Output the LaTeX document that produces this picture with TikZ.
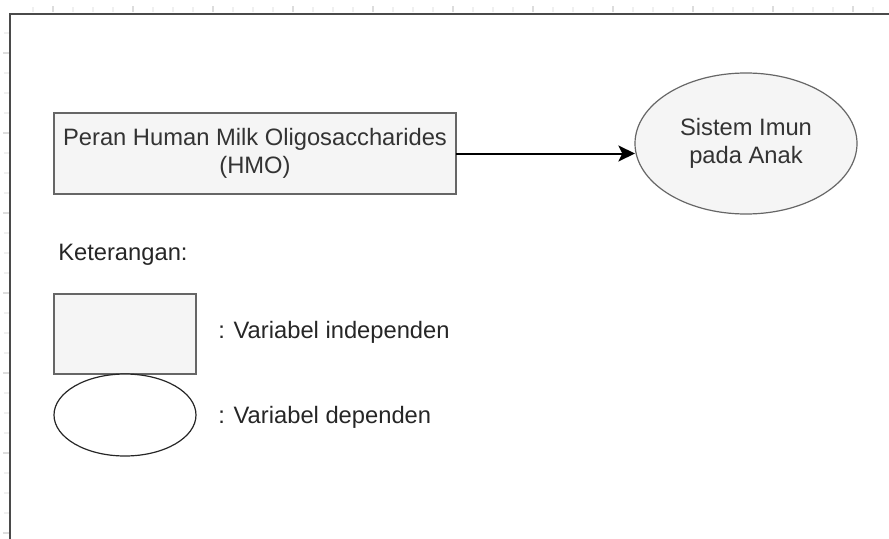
\documentclass[tikz,border=0pt]{standalone}
\usepackage{fontspec}
\setmainfont{Liberation Sans}
\usetikzlibrary{shapes.geometric,arrows.meta}
\definecolor{boxfill}{HTML}{F5F5F5}
\definecolor{boxline}{HTML}{666666}
\definecolor{boxtext}{HTML}{333333}
\definecolor{frameline}{HTML}{4A4A4A}
\definecolor{tickminor}{HTML}{F0F0F0}
\definecolor{tickmajor}{HTML}{DDDDDD}
\tikzset{
  varbox/.style={rectangle,draw=boxline,fill=boxfill,line width=0.9pt,inner sep=0pt,outer sep=0pt,
    text=boxtext,align=center,font=\fontsize{17.8}{21}\selectfont},
  varell/.style={ellipse,draw=boxline,fill=boxfill,line width=0.9pt,inner sep=0pt,outer sep=0pt,
    text=boxtext,align=center,font=\fontsize{17.8}{20.5}\selectfont},
  legell/.style={ellipse,draw=black!85,fill=white,line width=0.9pt,inner sep=0pt,outer sep=0pt},
  legtext/.style={anchor=west,inner sep=0pt,text=black!85,font=\fontsize{17.8}{21}\selectfont},
  conn/.style={line width=1.5pt,-{Stealth[length=12.5pt,width=12pt,inset=3pt]}},
  frame/.style={draw=frameline,line width=1.6pt},
}
\begin{document}
\begin{tikzpicture}[x=0.75pt,y=-0.75pt]
\useasboundingbox (0,0) rectangle (889,539);
% ruler ticks
\foreach \k in {33,53,...,873}{
  \pgfmathtruncatemacro{\m}{mod(\k-53+800,80)}
  \ifnum\m=0 \draw[tickmajor,line width=0.8pt] (\k,6) -- (\k,12);
  \else \draw[tickminor,line width=0.8pt] (\k,7) -- (\k,12); \fi
}
\foreach \k in {33,53,...,533}{
  \pgfmathtruncatemacro{\m}{mod(\k-53+800,80)}
  \ifnum\m=0 \draw[tickmajor,line width=0.8pt] (3,\k) -- (9,\k);
  \else \draw[tickminor,line width=0.8pt] (4,\k) -- (9,\k); \fi
}
% frame
\coordinate (fc) at (10,14);
\coordinate (fr) at (889,14);
\coordinate (fb) at (10,539);
\draw[frame] (fr) -- (fc) -- (fb);
% main diagram
\node[varbox,minimum width=301.5pt,minimum height=60.75pt] (hmo) at (255,153.5)
  {Peran Human Milk Oligosaccharides\\(HMO)};
\node[varell,minimum width=166.5pt,minimum height=105.75pt] (imun) at (746,143.5)
  {Sistem Imun\\pada Anak};
\draw[conn] (hmo.east) -- (hmo.east -| imun.west);
% legend
\node[legtext] (ket) at (58,255) {Keterangan:};
\node[varbox,minimum width=106.5pt,minimum height=60pt] (legbox) at (125,334) {};
\node[legell,minimum width=106.5pt,minimum height=61.5pt] (legell) at (125,415) {};
\node[legtext] (indep) at (218,332) {: Variabel independen};
\node[legtext] (dep) at (218,417) {: Variabel dependen};
\end{tikzpicture}
\end{document}
